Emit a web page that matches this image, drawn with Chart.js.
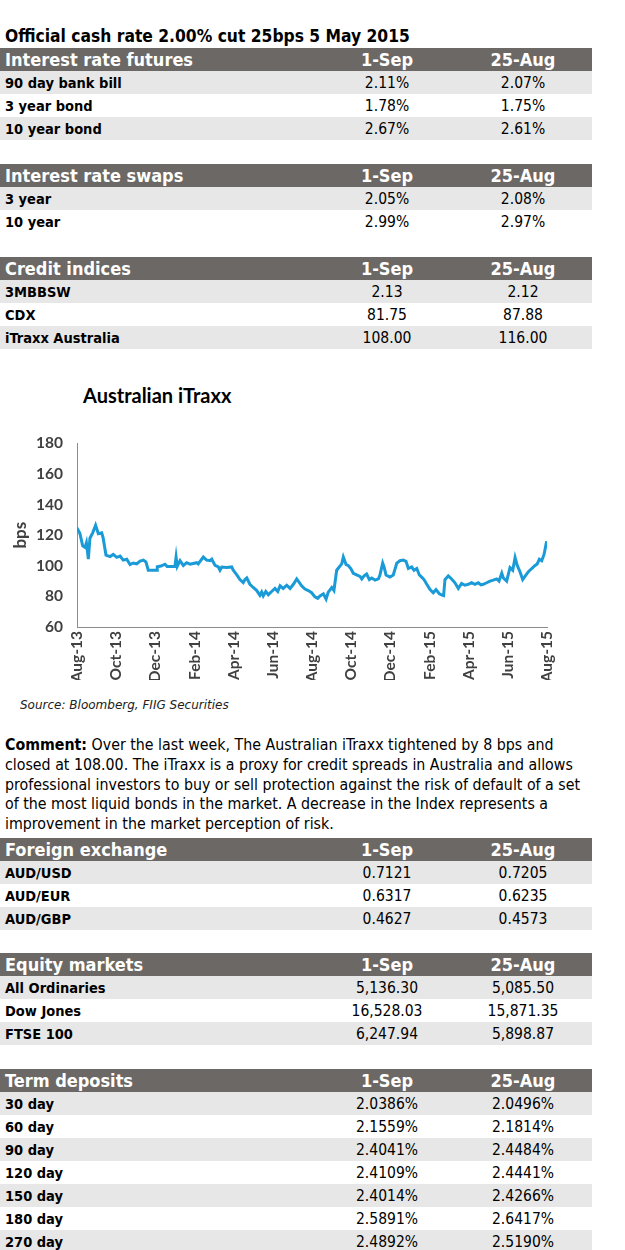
<!DOCTYPE html>
<html>
<head>
<meta charset="utf-8">
<script src="https://cdn.jsdelivr.net/npm/chart.js@4"></script>
<style>
  body { margin: 0; width: 625px; height: 1250px; background: #fff; position: relative; overflow: hidden;
         font-family: "DejaVu Sans Condensed", "DejaVu Sans", sans-serif; color: #000; }
  .abs { position: absolute; }
  .title { left: 5px; top: 26px; font-size: 17.3px; font-weight: bold; white-space: nowrap; }
  table { position: absolute; left: 0; width: 592px; border-collapse: collapse; table-layout: fixed; }
  td { height: 23px; padding: 0; font-size: 14.5px; white-space: nowrap; }
  tr.head td { background: #6c6865; color: #fff; font-weight: bold; font-size: 18px; }
  tr.shade td { background: #e7e7e7; }
  td.lab { padding-left: 5px; font-weight: bold; }
  td.num { text-align: center; font-size: 15.5px; }
  tr.head td.num { font-size: 18px; }
  #chartTitle { left: 83px; top: 383px; font-family: Lato, sans-serif; font-weight: bold; font-size: 20px; }
  #source { left: 20px; top: 698px; font-family: "DejaVu Sans", sans-serif; font-style: italic; font-size: 12px; color: #222; }
  #comment { left: 5px; top: 735px; font-size: 15.8px; line-height: 19.8px; white-space: nowrap; }
  #chartBox { left: 0; top: 420px; width: 570px; height: 260px; }
</style>
</head>
<body>
<div class="abs title">Official cash rate 2.00% cut 25bps 5 May 2015</div>
<div id="tables"></div>
<div id="chartTitle" class="abs">Australian iTraxx</div>
<div id="chartBox" class="abs"><canvas id="itraxxChart" width="570" height="260"></canvas></div>
<div id="source" class="abs">Source: Bloomberg, FIIG Securities</div>
<div id="comment" class="abs"><b>Comment:</b> Over the last week, The Australian iTraxx tightened by 8 bps and<br>closed at 108.00. The iTraxx is a proxy for credit spreads in Australia and allows<br>professional investors to buy or sell protection against the risk of default of a set<br>of the most liquid bonds in the market. A decrease in the Index represents a<br>improvement in the market perception of risk.</div>

<script>
// table data
const dates = ["1-Sep", "25-Aug"];

const futuresRows = ["90 day bank bill", "3 year bond", "10 year bond"];
const futuresSep = ["2.11%", "1.78%", "2.67%"];
const futuresAug = ["2.07%", "1.75%", "2.61%"];

const swapsRows = ["3 year", "10 year"];
const swapsSep = ["2.05%", "2.99%"];
const swapsAug = ["2.08%", "2.97%"];

const creditRows = ["3MBBSW", "CDX", "iTraxx Australia"];
const creditSep = ["2.13", "81.75", "108.00"];
const creditAug = ["2.12", "87.88", "116.00"];

const fxRows = ["AUD/USD", "AUD/EUR", "AUD/GBP"];
const fxSep = ["0.7121", "0.6317", "0.4627"];
const fxAug = ["0.7205", "0.6235", "0.4573"];

const equityRows = ["All Ordinaries", "Dow Jones", "FTSE 100"];
const equitySep = ["5,136.30", "16,528.03", "6,247.94"];
const equityAug = ["5,085.50", "15,871.35", "5,898.87"];

const termRows = ["30 day", "60 day", "90 day", "120 day", "150 day", "180 day", "270 day"];
const termSep = ["2.0386%", "2.1559%", "2.4041%", "2.4109%", "2.4014%", "2.5891%", "2.4892%"];
const termAug = ["2.0496%", "2.1814%", "2.4484%", "2.4441%", "2.4266%", "2.6417%", "2.5190%"];

// chart data: months since Aug-13, and index level in bps
const monthLabels = ["Aug-13", "Oct-13", "Dec-13", "Feb-14", "Apr-14", "Jun-14", "Aug-14",
  "Oct-14", "Dec-14", "Feb-15", "Apr-15", "Jun-15", "Aug-15"];
const monthPos = [0.00, 0.15, 0.29, 0.41, 0.48, 0.58, 0.66, 0.80, 0.95, 1.09, 1.26, 1.33, 1.48, 1.69,
  1.85, 2.03, 2.20, 2.36, 2.54, 2.71, 2.87, 3.05, 3.22, 3.39, 3.52, 3.64, 3.83, 4.09, 4.10, 4.29,
  4.49, 4.60, 4.75, 5.00, 5.06, 5.12, 5.26, 5.43, 5.60, 5.77, 5.94, 6.11, 6.19, 6.45, 6.62, 6.79,
  6.88, 7.05, 7.22, 7.30, 7.39, 7.64, 7.90, 7.98, 8.16, 8.32, 8.49, 8.58, 8.67, 8.83, 9.00, 9.18,
  9.34, 9.43, 9.51, 9.64, 9.77, 9.94, 10.11, 10.25, 10.37, 10.53, 10.71, 10.88, 11.05, 11.22,
  11.30, 11.47, 11.64, 11.81, 11.98, 12.15, 12.29, 12.41, 12.58, 12.72, 12.83, 13.01, 13.12,
  13.26, 13.39, 13.52, 13.60, 13.74, 13.85, 13.98, 14.11, 14.28, 14.45, 14.54, 14.66, 14.79,
  14.93, 15.05, 15.22, 15.39, 15.47, 15.61, 15.68, 15.78, 15.98, 16.15, 16.33, 16.49, 16.66,
  16.80, 16.92, 17.09, 17.21, 17.35, 17.48, 17.60, 17.72, 17.86, 18.03, 18.19, 18.33, 18.50,
  18.67, 18.72, 18.79, 18.96, 19.13, 19.30, 19.47, 19.64, 19.81, 19.98, 20.15, 20.32, 20.49,
  20.63, 20.75, 20.92, 21.09, 21.26, 21.43, 21.55, 21.69, 21.77, 21.94, 22.11, 22.25, 22.37,
  22.48, 22.62, 22.76, 22.93, 23.05, 23.22, 23.39, 23.50, 23.61, 23.73, 23.85, 23.98];
const itraxx = [124.8, 121, 113, 112, 115, 104.3, 118, 121.5, 126.5, 121, 121.5, 118.5, 107, 106,
  107.4, 105.5, 106.3, 103.7, 104.3, 100.8, 101.8, 101.2, 103, 103.7, 102.5, 97.1, 97, 97, 99.4, 99.8,
  101, 99.6, 99.6, 99.6, 105.7, 99.6, 103.3, 100.2, 102, 101, 101.5, 102, 101.2, 105.7, 103.7, 103.3,
  104.3, 100.2, 99.2, 97.1, 99.2, 98.8, 99.2, 97.1, 94, 91, 89, 91, 92, 87.9, 85.8, 83.8,
  80.7, 82.8, 80.3, 83.2, 81.1, 83.2, 85.2, 83.2, 86.9, 85.2, 87.3, 85.2, 87.9, 91.4,
  90, 86.9, 84.8, 83.8, 82.4, 79.7, 78.7, 80.3, 81.7, 78.3, 82.8, 85.8, 83.8,
  97.1, 99.2, 101.2, 105.7, 100.8, 100.2, 98.2, 95.1, 94, 93, 91.4, 93.4, 94.6,
  91, 92, 90.6, 91.4, 94, 101.7, 99.2, 94, 92.6, 94, 101.7, 103.3, 103.7,
  102.9, 98.2, 99.2, 97.1, 98.2, 94, 92.6, 91, 87.9, 84.4, 82.4, 84.4, 81.7,
  80.7, 80.5, 91, 93.4, 91.4, 88.9, 85.2, 88.5, 87.3, 87.9, 88.9, 87.9, 88.9,
  87.5, 87.9, 88.9, 90, 90.6, 91.4, 90, 95.1, 92, 90, 98.8, 97.1, 105.4,
  100.2, 96.1, 91, 94, 96.1, 98.2, 100.2, 101.2, 104.3, 103.3, 107.4, 116];
const yTicks = [60, 80, 100, 120, 140, 160, 180];

function makeTable(top, title, rows, sep, aug) {
  const t = document.createElement("table");
  t.style.top = top + "px";
  let html = '<colgroup><col style="width:320px"><col style="width:134px"><col style="width:138px"></colgroup>';
  html += '<tr class="head"><td class="lab">' + title + '</td><td class="num">' + dates[0] +
    '</td><td class="num">' + dates[1] + '</td></tr>';
  rows.forEach((r, i) => {
    html += '<tr class="' + (i % 2 === 0 ? "shade" : "") + '"><td class="lab">' + r +
      '</td><td class="num">' + sep[i] + '</td><td class="num">' + aug[i] + '</td></tr>';
  });
  t.innerHTML = html;
  document.getElementById("tables").appendChild(t);
}

makeTable(48, "Interest rate futures", futuresRows, futuresSep, futuresAug);
makeTable(164, "Interest rate swaps", swapsRows, swapsSep, swapsAug);
makeTable(257, "Credit indices", creditRows, creditSep, creditAug);
makeTable(838, "Foreign exchange", fxRows, fxSep, fxAug);
makeTable(953, "Equity markets", equityRows, equitySep, equityAug);
makeTable(1069, "Term deposits", termRows, termSep, termAug);

const tickFont = { family: "Lato", size: 15.5, weight: "bold" };

new Chart(document.getElementById("itraxxChart"), {
  type: "line",
  data: {
    datasets: [{
      data: monthPos.map((m, i) => ({ x: m, y: itraxx[i] })),
      borderColor: "#1a9bd7",
      borderWidth: 3,
      pointRadius: 0,
      tension: 0
    }]
  },
  options: {
    responsive: false,
    animation: false,
    layout: { padding: { left: 10, top: 12, right: 23, bottom: 0 } },
    plugins: { legend: { display: false }, tooltip: { enabled: false } },
    scales: {
      x: {
        type: "linear",
        min: 0,
        max: 24,
        afterBuildTicks: s => { s.ticks = monthLabels.map((l, i) => ({ value: i * 2 })); },
        afterFit: s => { s.height = 53; },
        grid: { color: "rgba(0,0,0,0)", drawTicks: false },
        border: { color: "#8c8c8c", width: 1 },
        ticks: {
          minRotation: 90, maxRotation: 90, autoSkip: false, padding: 4,
          color: "#404040", font: tickFont,
          callback: v => monthLabels[Math.round(v / 2)]
        }
      },
      y: {
        min: 60,
        max: 180,
        afterBuildTicks: s => { s.ticks = yTicks.map(v => ({ value: v })); },
        afterFit: s => { s.width = 67; },
        grid: { color: "rgba(0,0,0,0)", drawTicks: false },
        border: { color: "#8c8c8c", width: 1 },
        ticks: { padding: 14, color: "#404040", font: tickFont },
        title: { display: true, text: "bps", color: "#404040", font: { family: "Lato", size: 17, weight: "bold" }, padding: 0 }
      }
    }
  }
});
</script>
</body>
</html>
